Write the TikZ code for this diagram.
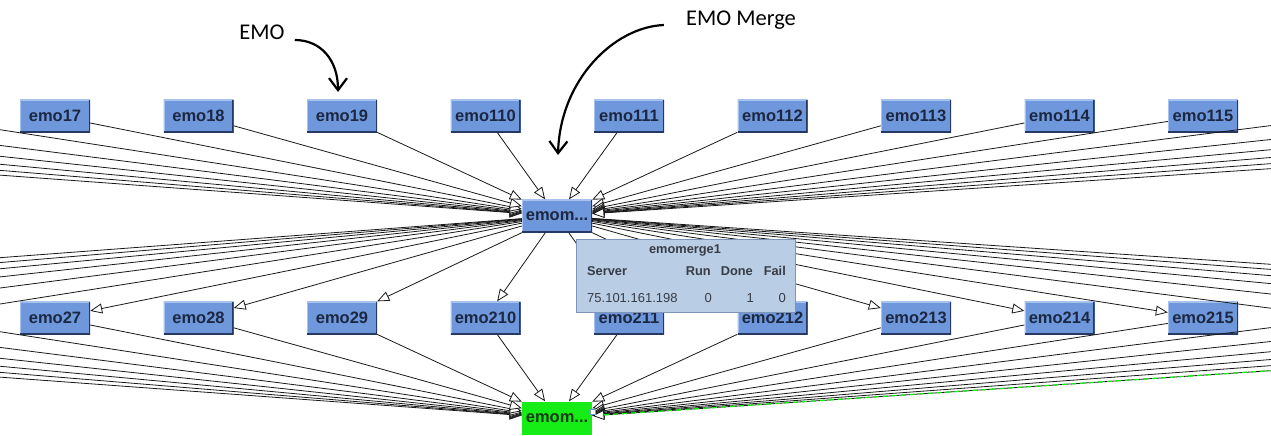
\documentclass[tikz,border=0pt]{standalone}
\usepackage{fontspec}
\setmainfont{Liberation Sans}
\newfontfamily\notefont{Carlito}
\usetikzlibrary{arrows.meta}

\definecolor{emoblue}{RGB}{111,151,219}
\definecolor{emodark}{RGB}{38,56,100}
\definecolor{emolight}{RGB}{168,194,238}
\definecolor{emotext}{RGB}{28,40,66}
\definecolor{mergegreen}{RGB}{22,236,22}
\definecolor{mergetext}{RGB}{20,60,20}
\definecolor{tipfill}{RGB}{185,205,229}
\definecolor{tipedge}{RGB}{128,148,184}
\definecolor{tiptext}{RGB}{55,60,70}

\tikzset{
	emobox/.style = {fill=emoblue, text=emotext, minimum width=70pt, minimum height=33pt, inner sep=0pt,
		font=\bfseries\fontsize{16.5}{18}\selectfont,
		path picture = {
			\draw[emolight, line width=2pt] (path picture bounding box.south west) -- (path picture bounding box.north west) -- (path picture bounding box.north east);
			\draw[emodark, line width=3pt] (path picture bounding box.north east) -- (path picture bounding box.south east) -- (path picture bounding box.south west);
		}},
	greenbox/.style = {emobox, fill=mergegreen, text=mergetext, path picture={}},
	flow/.style = {draw=black!90, line width=0.8pt, -{Triangle[length=12pt, width=10pt, fill=white]}},
	tipbox/.style = {fill=tipfill, draw=tipedge, line width=1pt, minimum width=219pt, minimum height=73pt, inner sep=0pt},
	tiphead/.style = {text=tiptext, inner sep=0pt, font=\bfseries\fontsize{12.8}{14}\selectfont},
	tipcell/.style = {text=tiptext, inner sep=0pt, font=\fontsize{13}{14}\selectfont},
	note/.style = {inner sep=0pt, font=\notefont\fontsize{22.5}{24}\selectfont},
	notearrow/.style = {line width=2.2pt, -{Straight Barb[length=12pt, width=18pt]}}
}

\begin{document}
\begin{tikzpicture}[x=1pt, y=-1pt]
	\useasboundingbox (0,0) rectangle (1271,436);
	\clip (0,0) rectangle (1271,436);

	\foreach \i in {1,...,21} {
		\pgfmathsetmacro{\xpos}{55+143.5*(\i-7)}
		\ifnum\i<7
			\coordinate (emo1\i) at (\xpos,116);
			\coordinate (emo2\i) at (\xpos,318);
		\else\ifnum\i>15
			\coordinate (emo1\i) at (\xpos,116);
			\coordinate (emo2\i) at (\xpos,318);
		\else
			\node[emobox] (emo1\i) at (\xpos,116) {emo1\i};
			\node[emobox] (emo2\i) at (\xpos,318) {emo2\i};
		\fi\fi
	}
	\node[emobox] (merge1) at (557,216) {emom...};
	\node[greenbox] (merge2) at (557,418) {emom...};

	\foreach \i in {1,...,21} {
		\draw[flow] (emo1\i) -- (merge1);
		\draw[flow] (merge1) -- (emo2\i);
		\draw[flow] (emo2\i) -- (merge2);
	}
	\draw[mergegreen, line width=1.3pt, dash pattern=on 5pt off 4pt, shorten >=12pt] (emo221) -- (merge2);
	\draw[fill=white, draw=emoblue, line width=0.6pt] (590,409) rectangle (595,414);

	\node[tipbox] (tip) at (685.5,275.5) {};
	\node[tiphead] (tiptitle) at (685,250) {emomerge1};
	\node[tiphead, anchor=west] (tipserver) at (587,271) {Server};
	\node[tiphead, anchor=east] (tiprun) at (711,271) {Run};
	\node[tiphead, anchor=east] (tipdone) at (753,271) {Done};
	\node[tiphead, anchor=east] (tipfail) at (786,271) {Fail};
	\node[tipcell, anchor=west] (tipaddr) at (587,298) {75.101.161.198};
	\node[tipcell, anchor=east] (tiprunval) at (712,298) {0};
	\node[tipcell, anchor=east] (tipdoneval) at (754,298) {1};
	\node[tipcell, anchor=east] (tipfailval) at (786,298) {0};

	\node[note] (lblemo) at (262,32) {EMO};
	\node[note] (lblmerge) at (741,20) {EMO Merge};
	\coordinate (emotip) at (338,92);
	\coordinate (mergetip) at (558,155);
	\draw[notearrow] ([xshift=10pt, yshift=-8pt]lblemo.east) .. controls +(26,0) and +(0,-32) .. (emotip);
	\draw[notearrow] ([xshift=-22pt, yshift=-5pt]lblmerge.west) .. controls +(-50,2) and +(2,-75) .. (mergetip);
\end{tikzpicture}
\end{document}
